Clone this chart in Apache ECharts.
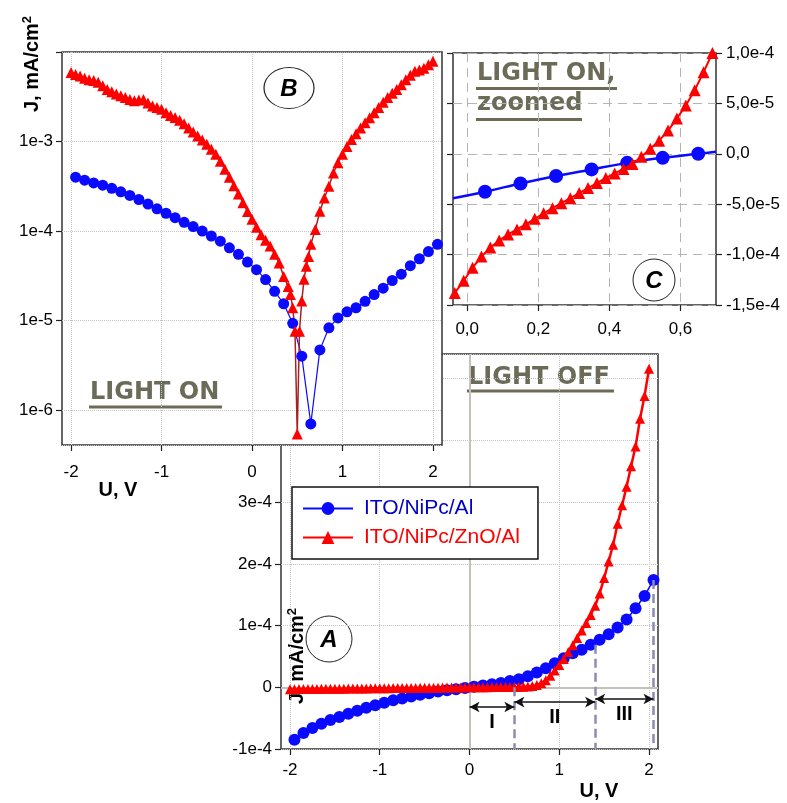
<!DOCTYPE html>
<html>
<head>
<meta charset="utf-8">
<title>J-U characteristics</title>
<script src="https://cdn.jsdelivr.net/npm/echarts@6/dist/echarts.min.js"></script>
<style>
  html, body { margin: 0; padding: 0; background: #fff; }
  #chart { width: 787px; height: 803px; }
</style>
</head>
<body>
<div id="chart"></div>
<script>
// ---------------- data ----------------
// voltage of the blue (ITO/NiPc/Al) points, panels A and B
var uBlue = [-1.95, -1.85, -1.75, -1.65, -1.55, -1.45, -1.35, -1.25, -1.15, -1.05,
             -0.95, -0.85, -0.75, -0.65, -0.55, -0.45, -0.35, -0.25, -0.15, -0.05,
              0.05,  0.15,  0.25,  0.35,  0.45,  0.55,  0.65,  0.75,  0.85,  0.95,
              1.05,  1.15,  1.25,  1.35,  1.45,  1.55,  1.65,  1.75,  1.85,  1.95,
              2.05];

// panel A (light off, linear)
var jBlueA = [-0.85e-4, -0.74e-4, -0.66e-4, -0.59e-4, -0.53e-4, -0.48e-4, -0.43e-4, -0.38e-4, -0.33e-4, -0.29e-4,
              -0.25e-4, -0.21e-4, -0.18e-4, -0.15e-4, -0.12e-4, -0.095e-4, -0.07e-4, -0.05e-4, -0.03e-4, -0.01e-4,
               0.01e-4,  0.03e-4,  0.05e-4,  0.07e-4,  0.10e-4,  0.13e-4,  0.18e-4,  0.24e-4,  0.31e-4,  0.39e-4,
               0.47e-4,  0.55e-4,  0.61e-4,  0.69e-4,  0.77e-4,  0.86e-4,  0.97e-4,  1.10e-4,  1.28e-4,  1.48e-4,
               1.74e-4];

var uRedA = [-2.0, -1.95, -1.9, -1.85, -1.8, -1.75, -1.7, -1.65, -1.6, -1.55,
             -1.5, -1.45, -1.4, -1.35, -1.3, -1.25, -1.2, -1.15, -1.1, -1.05,
             -1.0, -0.95, -0.9, -0.85, -0.8, -0.75, -0.7, -0.65, -0.6, -0.55,
             -0.5, -0.45, -0.4, -0.35, -0.3, -0.25, -0.2, -0.15, -0.1, -0.05,
              0.0,  0.05,  0.1,  0.15,  0.2,  0.25,  0.3,  0.35,  0.4,  0.45,
              0.5,  0.55,  0.6,  0.65,  0.7,  0.75,  0.8,  0.85,  0.9,  0.95,
              1.0,  1.05,  1.1,  1.15,  1.2,  1.25,  1.3,  1.35,  1.4,  1.45,
              1.5,  1.55,  1.6,  1.65,  1.7,  1.75,  1.8,  1.85,  1.9,  1.95,
              2.0];
var jRedA = [-0.030e-4, -0.030e-4, -0.029e-4, -0.028e-4, -0.028e-4, -0.027e-4, -0.026e-4, -0.025e-4, -0.025e-4, -0.024e-4,
             -0.023e-4, -0.022e-4, -0.022e-4, -0.021e-4, -0.020e-4, -0.019e-4, -0.019e-4, -0.018e-4, -0.017e-4, -0.016e-4,
             -0.016e-4, -0.015e-4, -0.014e-4, -0.013e-4, -0.013e-4, -0.012e-4, -0.011e-4, -0.010e-4, -0.010e-4, -0.009e-4,
             -0.008e-4, -0.007e-4, -0.007e-4, -0.006e-4, -0.005e-4, -0.004e-4, -0.004e-4, -0.003e-4, -0.002e-4, -0.001e-4,
              0.000e-4,  0.001e-4,  0.001e-4,  0.002e-4,  0.002e-4,  0.003e-4,  0.003e-4,  0.004e-4,  0.004e-4,  0.005e-4,
              0.006e-4,  0.007e-4,  0.009e-4,  0.013e-4,  0.020e-4,  0.035e-4,  0.065e-4,  0.115e-4,  0.185e-4,  0.27e-4,
              0.36e-4,   0.46e-4,   0.57e-4,   0.68e-4,   0.80e-4,   0.92e-4,   1.04e-4,   1.17e-4,   1.32e-4,   1.52e-4,
              1.77e-4,   2.04e-4,   2.31e-4,   2.65e-4,   2.95e-4,   3.25e-4,   3.58e-4,   3.90e-4,   4.35e-4,   4.72e-4,
              5.16e-4];

// region marks of panel A
var regionU = [0.5, 1.4, 2.05];          // dashed borders
var regionTop = [0, 0.69e-4, 1.74e-4];   // where each dashed border starts
var arrowFrom = [0, 0.5, 1.4];
var arrowTo = [0.5, 1.4, 2.05];
var arrowJ = [-0.32e-4, -0.24e-4, -0.19e-4];
var regionNames = ['I', 'II', 'III'];

// panel B (light on, log)
var jBlueB = [4.0e-4, 3.7e-4, 3.45e-4, 3.25e-4, 3.0e-4, 2.74e-4, 2.5e-4, 2.25e-4, 2.0e-4, 1.77e-4,
              1.58e-4, 1.41e-4, 1.25e-4, 1.12e-4, 1.0e-4, 8.8e-5, 7.7e-5, 6.5e-5, 5.5e-5, 4.5e-5,
              3.7e-5, 2.87e-5, 2.12e-5, 1.54e-5, 9.3e-6, 4.0e-6, 7.0e-7, 4.7e-6, 8.3e-6, 1.07e-5,
              1.25e-5, 1.39e-5, 1.64e-5, 1.95e-5, 2.3e-5, 2.8e-5, 3.3e-5, 4.1e-5, 4.9e-5, 5.9e-5,
              7.1e-5];

var uRedB = [-2.0, -1.95, -1.9, -1.85, -1.8, -1.75, -1.7, -1.65, -1.6, -1.55,
             -1.5, -1.45, -1.4, -1.35, -1.3, -1.25, -1.2, -1.15, -1.1, -1.05,
             -1.0, -0.95, -0.9, -0.85, -0.8, -0.75, -0.7, -0.65, -0.6, -0.55,
             -0.5, -0.45, -0.4, -0.35, -0.3, -0.25, -0.2, -0.15, -0.1, -0.05,
              0.0,  0.05,  0.1,  0.15,  0.2,  0.25,  0.3,  0.35,  0.4,
              0.425, 0.45, 0.475, 0.5, 0.525, 0.55, 0.575, 0.6, 0.625, 0.65,
              0.7,  0.75,  0.8,  0.85,  0.9,  0.95,  1.0,  1.05,  1.1,  1.15,
              1.2,  1.25,  1.3,  1.35,  1.4,  1.45,  1.5,  1.55,  1.6,  1.65,
              1.7,  1.75,  1.8,  1.85,  1.9,  1.95,  2.0];
var jRedB = [5.9e-3, 5.6e-3, 5.4e-3, 5.1e-3, 4.9e-3, 4.8e-3, 4.6e-3, 4.2e-3, 3.8e-3, 3.6e-3,
             3.4e-3, 3.25e-3, 3.1e-3, 2.95e-3, 2.85e-3, 2.9e-3, 2.95e-3, 2.7e-3, 2.5e-3, 2.4e-3,
             2.3e-3, 2.1e-3, 1.95e-3, 1.85e-3, 1.73e-3, 1.58e-3, 1.42e-3, 1.28e-3, 1.15e-3, 1.04e-3,
             9.3e-4, 8.2e-4, 7.2e-4, 6.0e-4, 4.9e-4, 4.0e-4, 3.2e-4, 2.6e-4, 2.07e-4, 1.65e-4,
             1.35e-4, 1.1e-4, 9.1e-5, 7.9e-5, 6.8e-5, 5.5e-5, 4.4e-5, 3.1e-5, 2.4e-5,
             1.95e-5, 1.39e-5, 7.6e-6, 5.4e-7, 7.6e-6, 1.65e-5, 2.9e-5, 4.05e-5, 5.2e-5, 7.1e-5,
             1.04e-4, 1.66e-4, 2.34e-4, 3.16e-4, 4.45e-4, 5.8e-4, 7.2e-4, 8.8e-4, 1.05e-3, 1.22e-3,
             1.42e-3, 1.62e-3, 1.84e-3, 2.1e-3, 2.4e-3, 2.75e-3, 3.1e-3, 3.45e-3, 3.8e-3, 4.3e-3,
             4.9e-3, 5.5e-3, 6.1e-3, 6.3e-3, 6.6e-3, 7.2e-3, 7.9e-3];

// panel C (light on, zoomed)
var uBlueC = [0.05, 0.15, 0.25, 0.35, 0.45, 0.55, 0.65];
var jBlueC = [-3.76e-5, -2.94e-5, -2.2e-5, -1.55e-5, -0.9e-5, -0.4e-5, 0.0];
var uFitC = [-0.04, 0.05, 0.15, 0.25, 0.35, 0.45, 0.55, 0.65, 0.7];
var jFitC = [-4.4e-5, -3.76e-5, -2.94e-5, -2.2e-5, -1.55e-5, -0.9e-5, -0.4e-5, 0.0, 0.2e-5];
var uRedC = [-0.035, -0.01, 0.015, 0.04, 0.065, 0.09, 0.115, 0.14, 0.165, 0.19,
              0.215, 0.24, 0.265, 0.29, 0.315, 0.34, 0.365, 0.39, 0.415, 0.44,
              0.465, 0.49, 0.515, 0.54, 0.565, 0.59, 0.615, 0.64, 0.665, 0.69];
var jRedC = [-1.38e-4, -1.26e-4, -1.13e-4, -1.02e-4, -0.93e-4, -0.86e-4, -0.80e-4, -0.75e-4, -0.70e-4, -0.645e-4,
             -0.59e-4, -0.54e-4, -0.49e-4, -0.44e-4, -0.39e-4, -0.34e-4, -0.29e-4, -0.24e-4, -0.195e-4, -0.15e-4,
             -0.10e-4, -0.03e-4, 0.05e-4, 0.13e-4, 0.23e-4, 0.35e-4, 0.48e-4, 0.63e-4, 0.81e-4, 1.0e-4];

// tick labels
var ticksU = [-2, -1, 0, 1, 2];
var ticksUC = [0, 0.2, 0.4, 0.6];

// ---------------- helpers ----------------
var FONT = '"Liberation Sans", Arial, sans-serif';
var BLUE = '#0a0aff';
var RED = '#ff0000';
var NOTE = '#6b6b58';

function pairs(u, j) {
  return u.map(function (x, i) { return [x, j[i]]; });
}

function fmtA(v) { return Math.abs(v) < 1e-12 ? '0' : v.toExponential(0); }
// log axis of panel B: only the decades 1e-6 .. 1e-3 carry a label
function fmtB(v) {
  var e = Math.round(Math.log10(v));
  return (e < -6 || e > -3) ? '' : '1e' + e;
}
function fmtC(v) { return Math.abs(v) < 1e-12 ? '0,0' : v.toExponential(1).replace('.', ','); }
function fmtUC(v) { return v.toFixed(1).replace('.', ','); }

var labelStyle = { fontSize: 17, color: '#000', fontFamily: FONT };
var tickStyle = { show: true, length: 6, lineStyle: { color: '#222', width: 1.2 } };
var dotted = { show: true, lineStyle: { type: 'dotted', color: '#c4c4c4', width: 1 } };
var dashedGrid = { show: true, lineStyle: { type: [9, 6], color: '#b4b4b4', width: 1 } };

// region dashes and arrows of panel A
var regionMarks = [];
regionU.forEach(function (u, i) {
  regionMarks.push([
    { coord: [u, regionTop[i]], symbol: 'none',
      lineStyle: { color: '#8c8cae', width: 2.5, type: [9, 5] }, label: { show: false } },
    { coord: [u, -1e-4], symbol: 'none' }
  ]);
});
arrowFrom.forEach(function (u, i) {
  regionMarks.push([
    { coord: [u, arrowJ[i]], symbol: 'arrow', symbolSize: [8, 10],
      lineStyle: { color: '#111', width: 1.5, type: 'solid' },
      label: { show: true, formatter: regionNames[i], position: 'insideMiddleBottom', distance: 5,
               fontSize: 20, fontWeight: 'bold', color: '#000', fontFamily: FONT } },
    { coord: [arrowTo[i], arrowJ[i]], symbol: 'arrow', symbolSize: [8, 10] }
  ]);
});

var zeroLine = { color: '#c2c2ba', width: 2, type: 'solid' };

var option = {
  animation: false,
  backgroundColor: '#fff',
  grid: [
    { left: 281, top: 354, width: 377, height: 395, show: true, backgroundColor: '#fff',
      borderColor: '#333', borderWidth: 1.5, zlevel: 0 },
    { left: 62, top: 52, width: 380, height: 393, show: true, backgroundColor: '#fff',
      borderColor: '#333', borderWidth: 1.5, zlevel: 1 },
    { left: 453, top: 53, width: 263, height: 252, show: true, backgroundColor: '#fff',
      borderColor: '#333', borderWidth: 1.5, zlevel: 2 }
  ],
  xAxis: [
    { gridIndex: 0, zlevel: 0, type: 'value', min: -2.1, max: 2.1,
      axisLine: { show: false, onZero: false },
      axisTick: Object.assign({ customValues: ticksU }, tickStyle),
      axisLabel: Object.assign({ customValues: ticksU, margin: 13 }, labelStyle),
      splitLine: dotted },
    { gridIndex: 1, zlevel: 1, type: 'value', min: -2.1, max: 2.1,
      axisLine: { show: false, onZero: false },
      axisTick: Object.assign({ customValues: ticksU }, tickStyle),
      axisLabel: Object.assign({ customValues: ticksU, margin: 19 }, labelStyle),
      splitLine: dotted },
    { gridIndex: 2, zlevel: 2, type: 'value', min: -0.04, max: 0.7,
      axisLine: { show: false, onZero: false },
      axisTick: Object.assign({ customValues: ticksUC }, tickStyle),
      axisLabel: Object.assign({ customValues: ticksUC, margin: 16, formatter: fmtUC }, labelStyle),
      splitLine: dashedGrid }
  ],
  yAxis: [
    { gridIndex: 0, zlevel: 0, type: 'value', min: -1e-4, max: 5.4e-4, interval: 1e-4,
      axisLine: { show: false, onZero: false }, axisTick: tickStyle,
      axisLabel: Object.assign({ formatter: fmtA, margin: 9, showMaxLabel: false }, labelStyle),
      splitLine: dotted },
    { gridIndex: 1, zlevel: 1, type: 'log', logBase: 10, min: 4.07e-7, max: 1e-2,
      axisLine: { show: false, onZero: false }, axisTick: tickStyle,
      axisLabel: Object.assign({ formatter: fmtB, margin: 9, showMinLabel: false, showMaxLabel: false }, labelStyle),
      splitLine: dotted },
    { gridIndex: 2, zlevel: 2, type: 'value', position: 'right', min: -1.5e-4, max: 1e-4, interval: 5e-5,
      axisLine: { show: false, onZero: false }, axisTick: tickStyle,
      axisLabel: Object.assign({ formatter: fmtC, margin: 10 }, labelStyle),
      splitLine: dashedGrid },
    { gridIndex: 2, zlevel: 2, type: 'value', position: 'left', min: -1.5e-4, max: 1e-4, interval: 5e-5,
      axisLine: { show: false, onZero: false }, axisTick: tickStyle,
      axisLabel: { show: false }, splitLine: { show: false } }
  ],
  legend: {
    zlevel: 0, z: 20, left: 292, top: 487, orient: 'vertical',
    backgroundColor: '#fff', borderColor: '#111', borderWidth: 1.5,
    padding: [11, 18, 11, 10], itemGap: 8, itemWidth: 50, itemHeight: 16,
    textStyle: { fontSize: 21, fontFamily: FONT, padding: [0, 0, 0, 6] },
    data: [
      { name: 'ITO/NiPc/Al', textStyle: { color: '#0000c8' } },
      { name: 'ITO/NiPc/ZnO/Al', textStyle: { color: RED } }
    ]
  },
  series: [
    // ---- panel A
    { name: 'ITO/NiPc/Al', type: 'line', xAxisIndex: 0, yAxisIndex: 0, zlevel: 0,
      data: pairs(uBlue, jBlueA), symbol: 'circle', symbolSize: 12, showSymbol: true,
      itemStyle: { color: BLUE }, lineStyle: { color: BLUE, width: 1.5 },
      markLine: { z: 1, silent: true, symbol: 'none', animation: false, label: { show: false },
                  lineStyle: zeroLine, data: [{ xAxis: 0 }, { yAxis: 0 }] } },
    { name: 'ITO/NiPc/ZnO/Al', type: 'line', xAxisIndex: 0, yAxisIndex: 0, zlevel: 0,
      data: pairs(uRedA, jRedA), symbol: 'triangle', symbolSize: 10, showSymbol: true,
      itemStyle: { color: RED }, lineStyle: { color: RED, width: 2.5 },
      markLine: { silent: true, animation: false, data: regionMarks } },
    // ---- panel B
    { name: 'B blue', type: 'line', xAxisIndex: 1, yAxisIndex: 1, zlevel: 1,
      data: pairs(uBlue, jBlueB), symbol: 'circle', symbolSize: 11,
      itemStyle: { color: BLUE }, lineStyle: { color: BLUE, width: 1.2 },
      markLine: { z: 1, silent: true, symbol: 'none', animation: false, label: { show: false },
                  lineStyle: zeroLine, data: [{ xAxis: 0 }] } },
    { name: 'B red', type: 'line', xAxisIndex: 1, yAxisIndex: 1, zlevel: 1,
      data: pairs(uRedB, jRedB), symbol: 'triangle', symbolSize: 11,
      itemStyle: { color: RED }, lineStyle: { color: '#a82020', width: 1.5 } },
    // ---- panel C
    { name: 'C fit', type: 'line', xAxisIndex: 2, yAxisIndex: 2, zlevel: 2,
      data: pairs(uFitC, jFitC), showSymbol: false, smooth: 0.3,
      lineStyle: { color: BLUE, width: 2.5 } },
    { name: 'C blue', type: 'scatter', xAxisIndex: 2, yAxisIndex: 2, zlevel: 2,
      data: pairs(uBlueC, jBlueC), symbol: 'circle', symbolSize: 14,
      itemStyle: { color: BLUE, opacity: 1 } },
    { name: 'C red', type: 'line', xAxisIndex: 2, yAxisIndex: 2, zlevel: 2,
      data: pairs(uRedC, jRedC), symbol: 'triangle', symbolSize: 12,
      itemStyle: { color: RED }, lineStyle: { color: RED, width: 2 } }
  ],
  graphic: { elements: [
    // panel A notes
    { type: 'text', zlevel: 0, x: 468, y: 378,
      style: { text: 'LIGHT OFF', fontSize: 24, fontWeight: 'bold', fontFamily: '"DejaVu Sans"', fill: NOTE, verticalAlign: 'middle' } },
    { type: 'line', zlevel: 0, shape: { x1: 467, y1: 391, x2: 614, y2: 391 }, style: { stroke: NOTE, lineWidth: 3 } },
    { type: 'circle', zlevel: 0, shape: { cx: 329, cy: 639, r: 23 }, style: { fill: '#fff', stroke: '#222', lineWidth: 1 } },
    { type: 'text', zlevel: 0, x: 329, y: 640,
      style: { text: 'A', fontSize: 24, fontWeight: 'bold', fontStyle: 'italic', fontFamily: FONT, fill: '#000', align: 'center', verticalAlign: 'middle' } },
    { type: 'text', zlevel: 0, x: 599, y: 791,
      style: { text: 'U, V', fontSize: 20, fontWeight: 'bold', fontFamily: FONT, fill: '#000', align: 'center', verticalAlign: 'middle' } },
    { type: 'text', zlevel: 0, x: 297, y: 656, rotation: Math.PI / 2,
      style: { text: 'J, mA/cm{s|2}', fontSize: 20, fontWeight: 'bold', fontFamily: FONT, fill: '#000', align: 'center', verticalAlign: 'middle',
               rich: { s: { fontSize: 13, fontWeight: 'bold', fontFamily: FONT, padding: [0, 0, 10, 0] } } } },
    // panel B notes
    { type: 'circle', zlevel: 1, x: 289, y: 88, scaleX: 1.22, shape: { cx: 0, cy: 0, r: 20.5 },
      style: { fill: '#fff', stroke: '#222', lineWidth: 1, strokeNoScale: true } },
    { type: 'text', zlevel: 1, x: 289, y: 89,
      style: { text: 'B', fontSize: 24, fontWeight: 'bold', fontStyle: 'italic', fontFamily: FONT, fill: '#000', align: 'center', verticalAlign: 'middle' } },
    { type: 'text', zlevel: 1, x: 90, y: 393,
      style: { text: 'LIGHT ON', fontSize: 24, fontWeight: 'bold', fontFamily: '"DejaVu Sans"', fill: NOTE, verticalAlign: 'middle' } },
    { type: 'line', zlevel: 1, shape: { x1: 89, y1: 407, x2: 222, y2: 407 }, style: { stroke: NOTE, lineWidth: 3 } },
    { type: 'text', zlevel: 1, x: 118, y: 490,
      style: { text: 'U, V', fontSize: 20, fontWeight: 'bold', fontFamily: FONT, fill: '#000', align: 'center', verticalAlign: 'middle' } },
    { type: 'text', zlevel: 1, x: 32, y: 64, rotation: Math.PI / 2,
      style: { text: 'J, mA/cm{s|2}', fontSize: 20, fontWeight: 'bold', fontFamily: FONT, fill: '#000', align: 'center', verticalAlign: 'middle',
               rich: { s: { fontSize: 13, fontWeight: 'bold', fontFamily: FONT, padding: [0, 0, 10, 0] } } } },
    // panel C notes
    { type: 'text', zlevel: 2, x: 477, y: 74,
      style: { text: 'LIGHT ON,', fontSize: 24, fontWeight: 'bold', fontFamily: '"DejaVu Sans"', fill: NOTE, verticalAlign: 'middle' } },
    { type: 'line', zlevel: 2, shape: { x1: 476, y1: 88.5, x2: 617, y2: 88.5 }, style: { stroke: NOTE, lineWidth: 3 } },
    { type: 'text', zlevel: 2, x: 477, y: 104,
      style: { text: 'zoomed', fontSize: 24, fontWeight: 'bold', fontFamily: '"DejaVu Sans"', fill: NOTE, verticalAlign: 'middle' } },
    { type: 'line', zlevel: 2, shape: { x1: 476, y1: 119.5, x2: 582, y2: 119.5 }, style: { stroke: NOTE, lineWidth: 3 } },
    { type: 'circle', zlevel: 2, shape: { cx: 654, cy: 280, r: 21 }, style: { fill: '#fff', stroke: '#222', lineWidth: 1 } },
    { type: 'text', zlevel: 2, x: 654, y: 281,
      style: { text: 'C', fontSize: 24, fontWeight: 'bold', fontStyle: 'italic', fontFamily: FONT, fill: '#000', align: 'center', verticalAlign: 'middle' } }
  ] }
};

var chart = echarts.init(document.getElementById('chart'));
chart.setOption(option);
</script>
</body>
</html>
